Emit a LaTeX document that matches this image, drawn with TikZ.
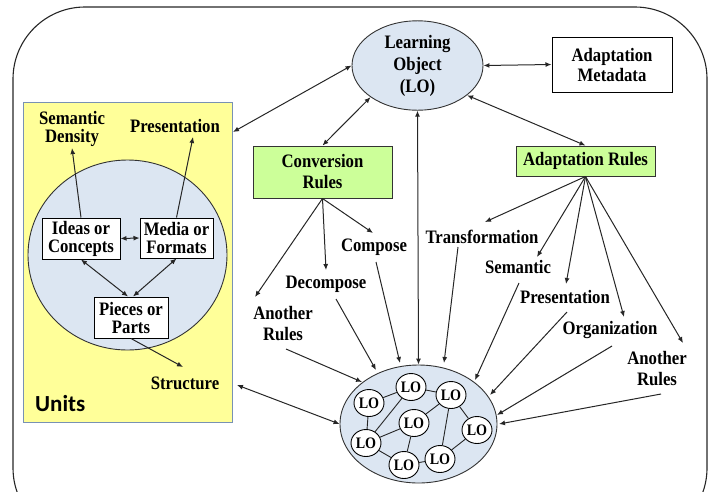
\documentclass[tikz,border=0pt]{standalone}
\usepackage{fontspec}
\setmainfont{Liberation Serif}[FakeStretch=0.88]
\newfontfamily\unitsfont{Carlito}
\usetikzlibrary{arrows.meta,shapes.geometric}
\definecolor{paleblue}{RGB}{220,230,242}
\definecolor{paleyellow}{RGB}{255,255,153}
\definecolor{palegreen}{RGB}{204,255,153}
\definecolor{frameblue}{RGB}{120,145,180}
\tikzset{
  txt/.style={font=\fontsize{19}{21}\selectfont\bfseries, align=center, inner sep=1pt},
  boxed/.style={txt, draw=black, line width=1pt, fill=white, inner sep=0pt},
  rulebox/.style={boxed, fill=palegreen, draw=black!80},
  lonode/.style={ellipse, draw=black, line width=0.9pt, fill=white, inner sep=0pt,
    minimum width=30pt, minimum height=27pt, font=\fontsize{16}{17}\selectfont\bfseries},
  arr/.style={-{Latex[length=6pt,width=5pt]}, line width=1pt, draw=black!85},
  darr/.style={{Latex[length=6pt,width=5pt]}-{Latex[length=6pt,width=5pt]}, line width=1pt, draw=black!85},
  link/.style={line width=0.9pt, draw=black!85}
}
\begin{document}
\begin{tikzpicture}[x=1pt,y=-1pt]
\useasboundingbox (0,0) rectangle (711,491);
% outer frame
\draw[line width=1.1pt, black!85, rounded corners=72pt] (13,7) rectangle (707,540);

% units panel
\node[draw=frameblue, line width=1pt, fill=paleyellow, minimum width=209pt, minimum height=320pt, inner sep=0pt] (units) at (127.5,262) {};
\node[ellipse, draw=black!80, line width=0.9pt, fill=paleblue, minimum width=199pt, minimum height=190pt, inner sep=0pt] (core) at (127.5,255) {};
\node[boxed, minimum width=78pt, minimum height=41pt, font=\fontsize{19}{18}\selectfont\bfseries] (ideas) at (81,238.5) {Ideas or\\Concepts};
\node[boxed, minimum width=73pt, minimum height=40pt, font=\fontsize{19}{18}\selectfont\bfseries] (media) at (176.5,238) {Media or\\Formats};
\node[boxed, minimum width=74pt, minimum height=41pt, font=\fontsize{19}{18}\selectfont\bfseries] (pieces) at (131,317.5) {Pieces or\\Parts};
\node[txt, font=\fontsize{19}{18.5}\selectfont\bfseries] (semden) at (72,129) {Semantic\\Density};
\node[txt] (presL) at (175,126) {Presentation};
\node[txt] (struct) at (185,383) {Structure};
\node[anchor=west, inner sep=0pt, font=\unitsfont\fontsize{23}{24}\selectfont\bfseries] (unitsLbl) at (35,404) {Units};

\coordinate (presTip) at (193,137);
\coordinate (structTip) at (183,367);
\draw[arr] (ideas.north) -- (semden.south);
\draw[arr] (media.north) -- (presTip);
\draw[darr] (ideas.east) -- (media.west);
\draw[darr] (ideas.south) -- ([xshift=-3pt]pieces.north);
\draw[darr] (media.south) -- ([xshift=2pt]pieces.north);
\draw[arr] (pieces.south) -- (structTip);

% learning object and its neighbours
\node[ellipse, draw=black!80, line width=0.9pt, fill=paleblue, minimum width=131pt, minimum height=84pt, inner sep=0pt, txt, font=\fontsize{19}{22}\selectfont\bfseries] (lo) at (417.5,65.5) {Learning\\Object\\(LO)};
\node[boxed, minimum width=120pt, minimum height=55pt, font=\fontsize{19}{20}\selectfont\bfseries] (meta) at (612,64.5) {Adaptation\\Metadata};
\node[rulebox, minimum width=139pt, minimum height=52pt] (conv) at (322.5,172) {Conversion\\Rules};
\node[rulebox, minimum width=139pt, minimum height=30pt] (adapt) at (585.5,161) {Adaptation Rules};

% LO cluster
\node[ellipse, draw=black!80, line width=0.9pt, fill=paleblue, minimum width=157pt, minimum height=118pt, inner sep=0pt] (cluster) at (418.5,424) {};
\node[lonode] (la) at (369,403) {LO};
\node[lonode] (lb) at (411,387) {LO};
\node[lonode] (lc) at (451,395) {LO};
\node[lonode] (ld) at (414,423) {LO};
\node[lonode] (le) at (477,430) {LO};
\node[lonode] (lf) at (366,443) {LO};
\node[lonode] (lg) at (404,465) {LO};
\node[lonode] (lh) at (440,459) {LO};
\draw[link] (la) -- (lb);
\draw[link] (la) -- (lf);
\draw[link] (lb) -- (lf);
\draw[link] (lb) -- (lc);
\draw[link] (lf) -- (ld);
\draw[link] (ld) -- (lc);
\draw[link] (ld) -- (lg);
\draw[link] (lf) -- (lg);
\draw[link] (lg) -- (lh);
\draw[link] (lc) -- (lh);
\draw[link] (lc) -- (le);
\draw[link] (le) -- (lh);

% rule labels
\node[txt] (anotherL) at (283,323.5) {Another\\Rules};
\node[txt] (decomp) at (326,284) {Decompose};
\node[txt] (compose) at (374,247) {Compose};
\node[txt] (transf) at (482,237) {Transformation};
\node[txt] (seman) at (518,267) {Semantic};
\node[txt] (presR) at (565,297) {Presentation};
\node[txt] (organ) at (610,330) {Organization};
\node[txt] (anotherR) at (657,369) {Another\\Rules};

% arrow tips below the rule boxes
\coordinate (tAnL) at (255,297);
\coordinate (tDec) at (326,270);
\coordinate (tCom) at (373,233);
\coordinate (tTra) at (485,222);
\coordinate (tSem) at (537,257);
\coordinate (tPre) at (566,284);
\coordinate (tOrg) at (624,317);
\coordinate (tAnR) at (683,343);
% tails of the arrows into the cluster
\coordinate (sAnL) at (286,349);
\coordinate (sDec) at (336,299);
\coordinate (sCom) at (376,262);
\coordinate (sTra) at (458,247);
\coordinate (sSem) at (519,283);
\coordinate (sPre) at (567,312);
\coordinate (sOrg) at (612,346);
\coordinate (sAnR) at (661,394);
% heads on the cluster
\coordinate (eAnL) at (362,382);
\coordinate (eDec) at (376,370);
\coordinate (eCom) at (400,363);
\coordinate (eTra) at (444,363);
\coordinate (eSem) at (475,380);
\coordinate (ePre) at (490,395);
\coordinate (eOrg) at (497,415);
\coordinate (eAnR) at (499,424);

\foreach \t in {AnL,Dec,Com} \draw[arr] (conv.south) -- (t\t);
\foreach \t in {Tra,Sem,Pre,Org,AnR} \draw[arr] (adapt.south) -- (t\t);
\foreach \t in {AnL,Dec,Com,Tra,Sem,Pre,Org,AnR} \draw[arr] (s\t) -- (e\t);

% links around the learning object
\coordinate (unitsTop) at (233,132);
\coordinate (unitsLow) at (237,385);
\draw[darr] (unitsTop) -- (lo.west);
\draw[darr] (lo.east) -- (meta.west);
\draw[darr] (lo.214) -- (conv.north);
\draw[darr] (lo.329) -- (adapt.north);
\draw[darr] (lo.south) -- (cluster.north);
\draw[darr] (unitsLow) -- (cluster.west);
\end{tikzpicture}
\end{document}
